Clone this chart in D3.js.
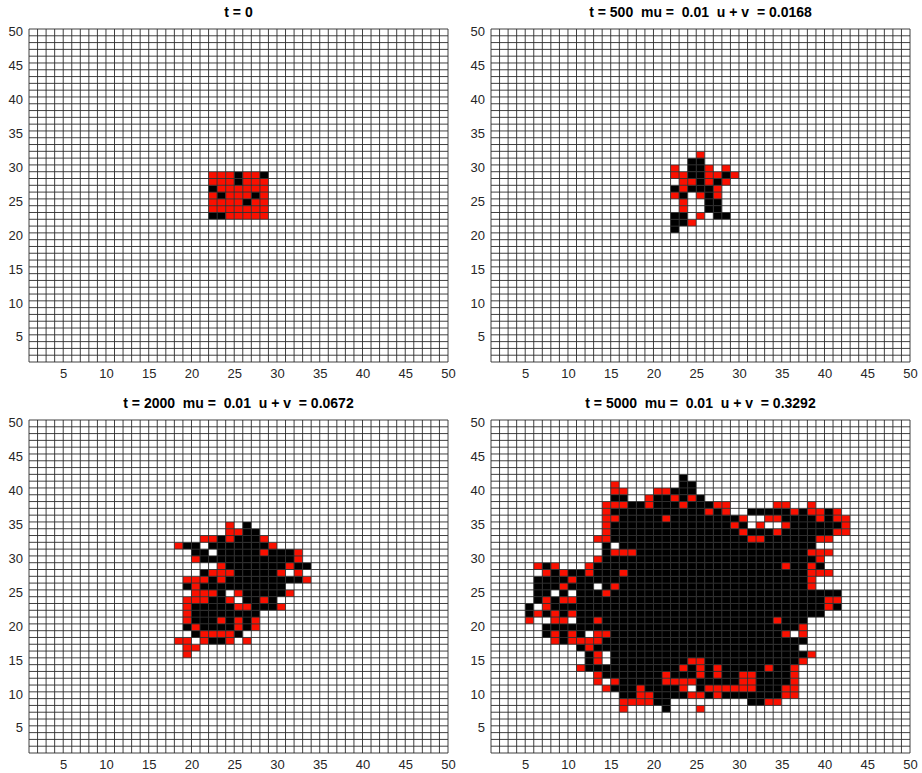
<!DOCTYPE html>
<html>
<head>
<meta charset="utf-8">
<script src="https://cdn.jsdelivr.net/npm/d3@7"></script>
<style>
  body { margin: 0; background: #fff; }
  svg text { font-family: "Liberation Sans", Arial, sans-serif; }
</style>
</head>
<body>
<div class="canvas"></div>
<script>
// axis range and tick labels
const gridMin = 1
const gridMax = 50
const ticks = [5, 10, 15, 20, 25, 30, 35, 40, 45, 50]

const titles = [
  't = 0',
  't = 500  mu =  0.01  u + v  = 0.0168',
  't = 2000  mu =  0.01  u + v  = 0.0672',
  't = 5000  mu =  0.01  u + v  = 0.3292'
]

// cell states: r = red, k = black, . = empty
// origins hold [first column, top row] of each block, rows go downwards
const origins = [[22, 28], [22, 31], [18, 34], [4, 41]]

const cells0 = [
  'rrrkrrk',
  'rrrkrrr',
  'krrrrrr',
  'rkrrrkr',
  'rrrrkrr',
  'rrrrrrr',
  'kkrrrrr'
]

const cells1 = [
  '...r....',
  '..kk....',
  'r.kkr.r.',
  'rrkkrrkr',
  '.rrkrkr.',
  'krkkkr..',
  'rk.rkr..',
  '.r..kk..',
  '.r..kk..',
  'kk.r.kk.',
  'kkr.....',
  'k.......'
]

const cells2 = [
  '......r.k........',
  '......rrkk.......',
  '...rrkrkkkr......',
  'rkk.kkkkkkkr.....',
  '..kk.kkkkkrkkkr..',
  '..rkkkkkkkkkkkr..',
  '.....rkkkkkkkrkk.',
  '...krrrkkkkkr.r..',
  '.rrrkrkkkkkkkkkr.',
  '.krkkkkkkkkkk....',
  '..rrrk.rkkkkkr...',
  '.rrrkkr.kkrk.....',
  '.rkkkkkrrkkkr....',
  '.rkkkkkkkk.......',
  '.rkkkrkrkr.......',
  '.krkkkkrkr.......',
  '..krrrrk.........',
  'rr.rkkr.r........',
  '.rr..............',
  '.r...............'
]

const cells3 = [
  '...................k....................',
  '...........r.......kk...................',
  '...........rr...rrkkk...................',
  '...........kk..rkkrkrk..................',
  '..........rrrkkrkkkrkkkrr.....rr..r.....',
  '..........rkkkkkkkkkkkrkr..kkkkkrkrrkr..',
  '..........rrkkkkkrkkkkkkkkr..rrkkkkrkrr.',
  '..........rkkkkkkkkkkkkkkrk.r..rkkkkkkr.',
  '..........rkkkkkkkkkkkkkkkrkkkrkkkkkkrr.',
  '.........rrkkkkkkkkkkkkkkkkrrkkkkkkrr...',
  '..........k.kkkkkkkkkkkkkkkkkkkkkkk.....',
  '..........krrrkkkkkkkkkkkkkkkkkkkkrrr...',
  '.........rkkkkkkkkkkkkkkkkkkkkkkkkkr....',
  '..rkr...rkkkkkkkkkkkkkkkkkkkkkkrkkrk....',
  '...rkrkkrkkkrkkkkkkkkkkkkkkkkkkkkkrrr...',
  '..kkkkrkkkkkkkkkkkkkkkkkkkkkkkkkkkr.....',
  '..kkkrkkk.krkkkkkkkkkkkkkkkkkkkkkkr.....',
  '..kk.k.kkkrkkkkkkkkkkkkkkkkkkkkkkkkkkk..',
  '..krkrrkkkkkkkkkkkkkkkkkkkkkkkkkkkkkrr..',
  '.k.rkkkkkkkkkkkkkkkkkkkkkkkkkkkkkkkkrk..',
  '.krkrkrkkkkkkkkkkkkkkkkkkkkkkkkkkkkk....',
  '.r..rr.kkrkkkkkkkkkkkkkkkkkkkkrkkk......',
  '...kkkkkkkkkkkkkkkkkkkkkkkkkkkkkkr......',
  '...krkrk.rrkkkkkkkkkkkkkkkkkkkkr.r......',
  '....rkrrrrkkkkkkkkkkkkkkkkkkkkkkkk......',
  '.......krkkkkkkkkkkkkkkkkkkkkkkkk.......',
  '........kr.kkkkkkkkkkkkkkkkkkkkkkkr.....',
  '........kr.kkkkkkkkkrrkkkkkkkkkkkr......',
  '.......rkkkkkkkkkkkrkrkrkkkkkrkkr.......',
  '.........rkkkkkkkrkkkrkrkkrrkkkkr.......',
  '.........r.rkkkkkrrrrkkkkkrrkkkkr.......',
  '..........rkkkrkkkkr.krrrrrrkkkrr.......',
  '............kkrrkkkkrrkrkkkkkkkrr.......',
  '............rrrrkk.........kkrr.........',
  '............r....k...r..................'
]

const blocks = [cells0, cells1, cells2, cells3]

const colours = { '.': '#ffffff', r: '#fa1000', k: '#000000' }

// layout of the four panels
const dims = { width: 922, height: 773, pw: 419, ph: 333 }
const panels = [
  { x: 29, y: 29 }, { x: 491, y: 29 },
  { x: 29, y: 420 }, { x: 491, y: 420 }
]

const svg = d3.select('.canvas')
  .append('svg')
  .attr('width', dims.width)
  .attr('height', dims.height)

svg.append('rect')
  .attr('width', dims.width)
  .attr('height', dims.height)
  .attr('fill', '#fff')

panels.forEach((p, i) => {
  const x = d3.scaleLinear().domain([gridMin, gridMax]).range([p.x, p.x + dims.pw])
  const y = d3.scaleLinear().domain([gridMin, gridMax]).range([p.y + dims.ph, p.y])

  // read the block into a lookup of coloured cells
  const [col0, row0] = origins[i]
  const state = new Map()
  blocks[i].forEach((line, j) => {
    [...line].forEach((ch, k) => {
      if (ch !== '.') state.set(`${col0 + k},${row0 - j}`, ch)
    })
  })

  const cells = d3.cross(d3.range(gridMin, gridMax), d3.range(gridMin, gridMax))
    .map(([c, r]) => ({ c, r, s: state.get(`${c},${r}`) || '.' }))

  const g = svg.append('g')

  g.selectAll('rect.cell')
    .data(cells)
    .enter()
    .append('rect')
    .attr('class', 'cell')
    .attr('x', d => x(d.c))
    .attr('y', d => y(d.r + 1))
    .attr('width', d => x(d.c + 1) - x(d.c))
    .attr('height', d => y(d.r) - y(d.r + 1))
    .attr('fill', d => colours[d.s])

  // cell edges
  const lines = d3.range(gridMin, gridMax + 1)
  g.selectAll('line.v')
    .data(lines)
    .enter()
    .append('line')
    .attr('x1', d => x(d)).attr('x2', d => x(d))
    .attr('y1', y(gridMin)).attr('y2', y(gridMax))
    .attr('stroke', '#2b2b2b')
    .attr('stroke-width', 0.9)

  g.selectAll('line.h')
    .data(lines)
    .enter()
    .append('line')
    .attr('y1', d => y(d)).attr('y2', d => y(d))
    .attr('x1', x(gridMin)).attr('x2', x(gridMax))
    .attr('stroke', '#2b2b2b')
    .attr('stroke-width', 0.9)

  // axes, labels only
  const xAxis = d3.axisBottom(x).tickValues(ticks).tickSize(0).tickPadding(7)
  const yAxis = d3.axisLeft(y).tickValues(ticks).tickSize(0).tickPadding(6)

  const gx = g.append('g')
    .attr('transform', `translate(0, ${p.y + dims.ph})`)
    .call(xAxis)
  const gy = g.append('g')
    .attr('transform', `translate(${p.x}, 2)`)
    .call(yAxis)

  ;[gx, gy].forEach(a => {
    a.select('.domain').remove()
    a.selectAll('text')
      .attr('fill', '#262626')
      .style('font-size', '13px')
      .style('font-family', '"Liberation Sans", Arial, sans-serif')
  })

  g.append('text')
    .attr('x', p.x + dims.pw / 2)
    .attr('y', p.y - 12)
    .attr('text-anchor', 'middle')
    .style('white-space', 'pre')
    .style('font-weight', 'bold')
    .style('font-size', '14px')
    .attr('fill', '#000')
    .text(titles[i])
})
</script>
</body>
</html>
